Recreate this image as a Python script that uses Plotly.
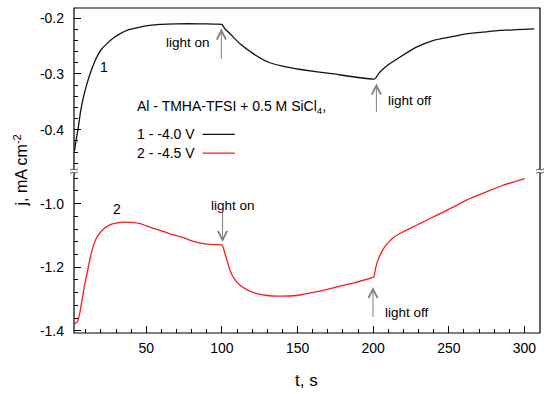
import plotly.graph_objects as go

# ---------------- data ----------------
t1 = [2.5, 3.5, 5.1, 6.5, 8.4, 10.5, 12.8, 15, 17.2, 20, 23.8, 28, 32.5, 38, 45.7, 52, 58.9,
      70, 85, 95, 100, 102, 105.4, 112, 120.9, 130.8, 140, 152, 174, 201,
      204.3, 208.7, 217.6, 228.6, 239.5, 250.5, 261.6, 272.5, 283.5, 295, 306.5]
j1 = [-0.438, -0.420, -0.395, -0.368, -0.342, -0.320, -0.300, -0.284, -0.270, -0.257, -0.246,
      -0.236, -0.228, -0.221, -0.216, -0.213, -0.211,
      -0.210, -0.210, -0.2105, -0.211, -0.219, -0.228, -0.246, -0.264, -0.279, -0.286, -0.292,
      -0.300, -0.309,
      -0.297, -0.286, -0.270, -0.252, -0.240, -0.234, -0.228, -0.225, -0.222, -0.2205, -0.219]

t2 = [2.5, 4.2, 6, 7.5, 9, 10.8, 12.5, 14.1, 15.8, 17.4, 19.5, 21.8, 25, 28.4, 35, 40, 46,
      52.3, 59.2, 66, 74.5, 80, 87.8, 95, 100, 101, 102, 105.4, 108, 112, 117, 123, 130,
      136.2, 149.4, 162.6, 175.8, 189, 200.4, 201.5, 203, 205, 207.5, 211, 215, 219.7, 225,
      230.8, 241.8, 252.8, 263.8, 274.8, 285.8, 300.2]
j2 = [-1.378, -1.373, -1.345, -1.304, -1.262, -1.220, -1.180, -1.147, -1.122, -1.105, -1.091,
      -1.079, -1.069, -1.063, -1.058, -1.059, -1.063,
      -1.074, -1.084, -1.096, -1.107, -1.117, -1.126, -1.129, -1.130, -1.140, -1.157, -1.210,
      -1.235, -1.257, -1.272, -1.283, -1.289,
      -1.291, -1.289, -1.277, -1.262, -1.247, -1.230, -1.205, -1.180, -1.158, -1.137, -1.117,
      -1.101, -1.089, -1.076,
      -1.063, -1.037, -1.011, -0.984, -0.963, -0.942, -0.921]

x_ticks = [50, 100, 150, 200, 250, 300]
y_top_ticks = [-0.2, -0.3, -0.4]
y_top_labels = ["-0.2", "-0.3", "-0.4"]
y_bot_ticks = [-1.0, -1.2, -1.4]
y_bot_labels = ["-1.0", "-1.2", "-1.4"]

# ---------------- layout geometry ----------------
W, H = 550, 394
PL, PR, PT, PB = 74, 540.5, 7.5, 332.7
YBRK = 170.7

def px(x):
    return (x - PL) / (PR - PL)

def py(y):
    return (PB - y) / (PB - PT)

d = py(YBRK)
FONT = "Liberation Sans, Arial, sans-serif"

fig = go.Figure()
fig.add_trace(go.Scatter(x=t1, y=j1, mode="lines", yaxis="y2",
                         line=dict(color="#111111", width=1.3, shape="spline", smoothing=0.4),
                         showlegend=False, hoverinfo="skip"))
fig.add_trace(go.Scatter(x=t2, y=j2, mode="lines", yaxis="y",
                         line=dict(color="#ff1a1a", width=1.3, shape="spline", smoothing=0.4),
                         showlegend=False, hoverinfo="skip"))

tickfont = dict(family=FONT, size=14, color="black")

fig.update_layout(
    width=W, height=H,
    margin=dict(l=PL, r=W - PR, t=PT, b=H - PB, pad=0),
    paper_bgcolor="white", plot_bgcolor="white",
    font=dict(family=FONT, size=14, color="black"),
    xaxis=dict(range=[2.2, 310.3], tickvals=x_ticks, ticks="inside", ticklen=7,
               tickcolor="black", tickwidth=1, showgrid=False, zeroline=False,
               showline=False, tickfont=tickfont, ticklabelstandoff=5,
               minor=dict(tickmode="linear", tick0=0, dtick=10, ticks="inside",
                          ticklen=4, tickcolor="black", tickwidth=1, showgrid=False),
               anchor="y"),
    yaxis=dict(domain=[0, d], range=[-1.407, -0.8975], tickvals=y_bot_ticks,
               ticktext=y_bot_labels, ticks="inside", ticklen=7, tickcolor="black",
               tickwidth=1, showgrid=False, zeroline=False, showline=False,
               tickfont=tickfont, ticklabelstandoff=9,
               minor=dict(tickmode="linear", tick0=-1.4, dtick=0.04, ticks="inside",
                          ticklen=4, tickcolor="black", tickwidth=1, showgrid=False),
               anchor="x"),
    yaxis2=dict(domain=[d, 1], range=[-0.4742, -0.1817], tickvals=y_top_ticks,
                ticktext=y_top_labels, ticks="inside", ticklen=7, tickcolor="black",
                tickwidth=1, showgrid=False, zeroline=False, showline=False,
                tickfont=tickfont, ticklabelstandoff=9,
                minor=dict(tickmode="linear", tick0=-0.2, dtick=0.02, ticks="inside",
                           ticklen=4, tickcolor="black", tickwidth=1, showgrid=False),
                anchor="x"),
)

shapes = []
# frame
shapes.append(dict(type="rect", xref="paper", yref="paper", x0=0, x1=1, y0=0, y1=1,
                   line=dict(color="black", width=1.2), fillcolor="rgba(0,0,0,0)", layer="above"))
# break marks on both vertical axes
for xb in (PL, PR):
    shapes.append(dict(type="rect", xref="paper", yref="paper",
                       x0=px(xb - 2), x1=px(xb + 2), y0=py(YBRK + 1.3), y1=py(YBRK - 1.3),
                       fillcolor="white", line=dict(width=0), layer="above"))
    for off in (-1.6, 1.6):
        yy = YBRK + off
        path = "M {:.5f},{:.5f} C {:.5f},{:.5f} {:.5f},{:.5f} {:.5f},{:.5f}".format(
            px(xb - 4), py(yy + 1), px(xb - 1), py(yy - 2.5),
            px(xb + 1), py(yy + 2.5), px(xb + 4), py(yy - 1))
        shapes.append(dict(type="path", xref="paper", yref="paper", path=path,
                           line=dict(color="#555555", width=1), layer="above"))
# legend sample lines
shapes.append(dict(type="line", xref="paper", yref="paper", x0=px(202.7), x1=px(235),
                   y0=py(134), y1=py(134), line=dict(color="#111111", width=1.3)))
shapes.append(dict(type="line", xref="paper", yref="paper", x0=px(202.7), x1=px(235),
                   y0=py(152.7), y1=py(152.7), line=dict(color="#ff1a1a", width=1.3)))
fig.update_layout(shapes=shapes)

ann = []

def text(x, y, s, xanchor="center", size=14, **kw):
    ann.append(dict(x=px(x), y=py(y), xref="paper", yref="paper", text=s, showarrow=False,
                    xanchor=xanchor, yanchor="middle", font=dict(family=FONT, size=size,
                                                                   color="black"), **kw))

def arrow(xh, yh, yt):
    ann.append(dict(x=px(xh), y=py(yh), xref="paper", yref="paper", text="",
                    showarrow=True, arrowhead=5, arrowsize=1.8, arrowwidth=1,
                    arrowcolor="#808080", ax=0, ay=yt - yh, standoff=0))

text(104, 66.7, "1")
text(117.3, 208.3, "2")
text(135, 106.7, "Al - TMHA-TFSI + 0.5 M SiCl<sub>4</sub>,", xanchor="left")
text(135, 134, "1 - -4.0 V", xanchor="left")
text(135, 152.7, "2 - -4.5 V", xanchor="left")
text(188, 41.7, "light on", size=13.5)
text(386, 100, "light off", xanchor="left", size=13.5)
text(233, 205, "light on", size=13.5)
text(383, 312, "light off", xanchor="left", size=13.5)
arrow(221.5, 28, 60)
arrow(376.7, 83, 113)
arrow(222.7, 241.7, 210)
arrow(373.3, 286.7, 318)
# axis titles
text(307, 380, "t, s", size=17)
ann.append(dict(x=px(21), y=py(170), xref="paper", yref="paper",
                text="j, mA cm<sup>-2</sup>", showarrow=False, textangle=-90,
                xanchor="center", yanchor="middle",
                font=dict(family=FONT, size=16, color="black")))
fig.update_layout(annotations=ann)

fig.write_html("out.html", config={"displayModeBar": False},
               post_script="document.body.style.margin='0';")
